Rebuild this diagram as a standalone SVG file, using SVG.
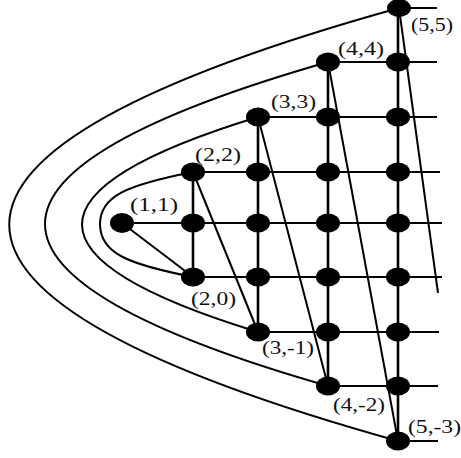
<svg xmlns="http://www.w3.org/2000/svg" width="461" height="458" viewBox="0 0 461 458">
<style>
.ln{stroke:#000;stroke-width:2;fill:none}
.vt{stroke:#000;stroke-width:2.6;fill:none}
.nd{fill:#000}
.lb{font-family:"Liberation Serif","Times New Roman",serif;font-size:18px;fill:#111}
</style>
<rect width="461" height="458" fill="#fff"/>
<g id="connectors">
<!-- curves -->
<path class="ln" d="M399,8 Q-380,224.5 398,441"/>
<path class="ln" d="M328,62 Q-238,224 328,386"/>
<path class="ln" d="M258,117 Q-94,224.5 258,332"/>
<path class="ln" d="M193,172 C127,185 100,196 100,224 C100,253 127,264 193,277"/>
<!-- horizontal rows -->
<line class="ln" x1="399" y1="8" x2="437" y2="8"/>
<line class="ln" x1="328" y1="62" x2="437" y2="62"/>
<line class="ln" x1="258" y1="117" x2="437" y2="117"/>
<line class="ln" x1="193" y1="172" x2="440" y2="172"/>
<line class="ln" x1="122" y1="223" x2="442" y2="223"/>
<line class="ln" x1="193" y1="277" x2="442" y2="277"/>
<line class="ln" x1="258" y1="332" x2="439" y2="332"/>
<line class="ln" x1="328" y1="386" x2="438" y2="386"/>
<line class="ln" x1="398" y1="441" x2="438" y2="441"/>
<!-- verticals -->
<line class="vt" x1="193" y1="172" x2="193" y2="277"/>
<line class="vt" x1="258" y1="117" x2="258" y2="332"/>
<line class="vt" x1="328" y1="62" x2="328" y2="386"/>
<line class="vt" x1="398" y1="8" x2="398" y2="441"/>
<!-- diagonals -->
<line class="ln" x1="122" y1="223" x2="193" y2="277"/>
<line class="ln" x1="193" y1="172" x2="258" y2="332"/>
<line class="ln" x1="258" y1="117" x2="328" y2="386"/>
<line class="ln" x1="328" y1="62" x2="398" y2="441"/>
<line class="ln" x1="399" y1="8" x2="438" y2="293"/>
</g>
<g id="n1_1"><ellipse class="nd" cx="122" cy="223" rx="12" ry="10"/><text class="lb" x="130" y="211" textLength="48" lengthAdjust="spacingAndGlyphs">(1,1)</text></g>
<g id="n2_2"><ellipse class="nd" cx="193" cy="172" rx="12" ry="9.5"/><text class="lb" x="195" y="161" textLength="46" lengthAdjust="spacingAndGlyphs">(2,2)</text></g>
<g id="n2_1"><ellipse class="nd" cx="193" cy="223" rx="12" ry="9.5"/></g>
<g id="n2_0"><ellipse class="nd" cx="193" cy="277" rx="12" ry="9.5"/><text class="lb" x="191" y="305" textLength="45" lengthAdjust="spacingAndGlyphs">(2,0)</text></g>
<g id="n3_3"><ellipse class="nd" cx="258" cy="117" rx="12" ry="9.5"/><text class="lb" x="271" y="108" textLength="45" lengthAdjust="spacingAndGlyphs">(3,3)</text></g>
<g id="n3_2"><ellipse class="nd" cx="258" cy="172" rx="12" ry="9.5"/></g>
<g id="n3_1"><ellipse class="nd" cx="258" cy="223" rx="12" ry="9.5"/></g>
<g id="n3_0"><ellipse class="nd" cx="258" cy="277" rx="12" ry="9.5"/></g>
<g id="n3_m1"><ellipse class="nd" cx="258" cy="332" rx="12" ry="9.5"/><text class="lb" x="262" y="354" textLength="52" lengthAdjust="spacingAndGlyphs">(3,-1)</text></g>
<g id="n4_4"><ellipse class="nd" cx="328" cy="62" rx="12" ry="9.5"/><text class="lb" x="338" y="55" textLength="46" lengthAdjust="spacingAndGlyphs">(4,4)</text></g>
<g id="n4_3"><ellipse class="nd" cx="328" cy="117" rx="12" ry="9.5"/></g>
<g id="n4_2"><ellipse class="nd" cx="328" cy="172" rx="12" ry="9.5"/></g>
<g id="n4_1"><ellipse class="nd" cx="328" cy="223" rx="12" ry="9.5"/></g>
<g id="n4_0"><ellipse class="nd" cx="328" cy="277" rx="12" ry="9.5"/></g>
<g id="n4_m1"><ellipse class="nd" cx="328" cy="332" rx="12" ry="9.5"/></g>
<g id="n4_m2"><ellipse class="nd" cx="328" cy="386" rx="12" ry="9.5"/><text class="lb" x="333" y="411" textLength="52" lengthAdjust="spacingAndGlyphs">(4,-2)</text></g>
<g id="n5_5"><ellipse class="nd" cx="399" cy="8" rx="12" ry="9"/><text class="lb" x="411" y="31" textLength="42" lengthAdjust="spacingAndGlyphs">(5,5)</text></g>
<g id="n5_4"><ellipse class="nd" cx="398" cy="62" rx="12" ry="9.5"/></g>
<g id="n5_3"><ellipse class="nd" cx="398" cy="117" rx="12" ry="9.5"/></g>
<g id="n5_2"><ellipse class="nd" cx="398" cy="172" rx="12" ry="9.5"/></g>
<g id="n5_1"><ellipse class="nd" cx="398" cy="223" rx="12" ry="9.5"/></g>
<g id="n5_0"><ellipse class="nd" cx="398" cy="277" rx="12" ry="9.5"/></g>
<g id="n5_m1"><ellipse class="nd" cx="398" cy="332" rx="12" ry="9.5"/></g>
<g id="n5_m2"><ellipse class="nd" cx="398" cy="386" rx="12" ry="9.5"/></g>
<g id="n5_m3"><ellipse class="nd" cx="398" cy="441" rx="12" ry="9.5"/><text class="lb" x="408" y="433" textLength="53" lengthAdjust="spacingAndGlyphs">(5,-3)</text></g>
</svg>
